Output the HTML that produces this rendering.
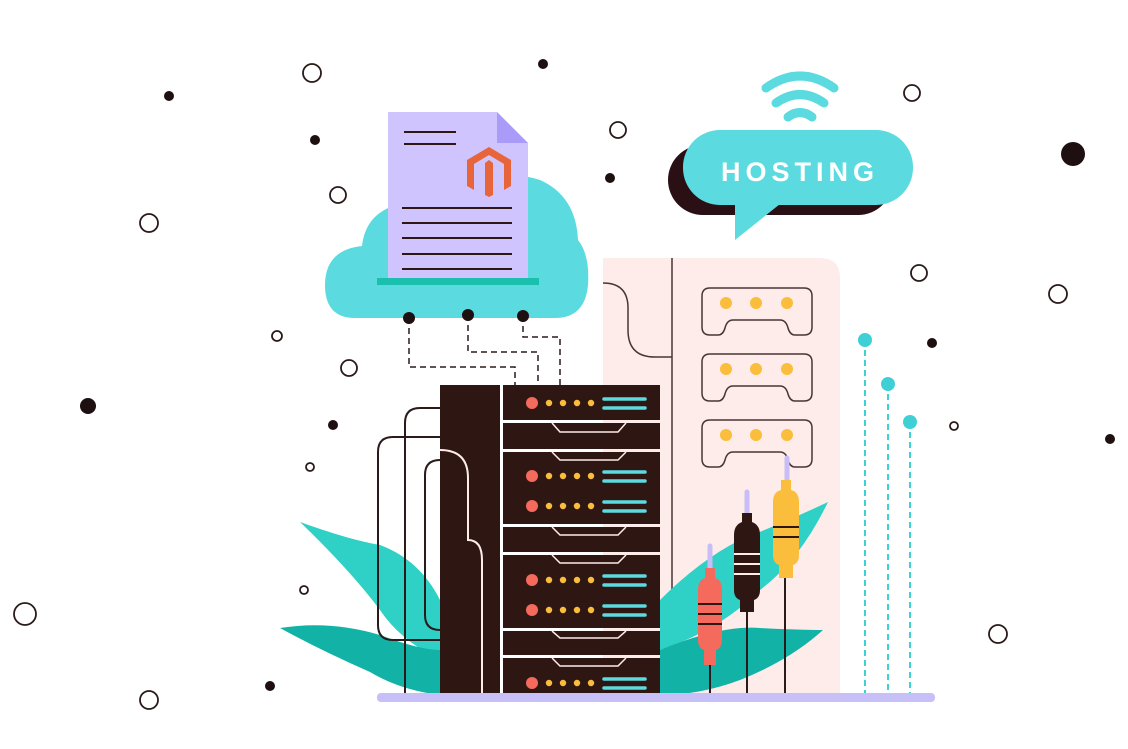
<!DOCTYPE html>
<html><head><style>html,body{margin:0;padding:0;background:#fff;}svg{display:block}</style></head>
<body>
<svg width="1128" height="749" viewBox="0 0 1128 749" xmlns="http://www.w3.org/2000/svg">
<g fill="#1e0f10">
<circle cx="169" cy="96" r="5"/><circle cx="315" cy="140" r="5"/><circle cx="543" cy="64" r="5"/><circle cx="610" cy="178" r="5"/><circle cx="1073" cy="154" r="12"/><circle cx="88" cy="406" r="8"/><circle cx="333" cy="425" r="5"/><circle cx="932" cy="343" r="5"/><circle cx="1110" cy="439" r="5"/><circle cx="270" cy="686" r="5"/>
</g>
<g fill="none" stroke="#2a1a1a" stroke-width="1.8">
<circle cx="312" cy="73" r="9"/><circle cx="618" cy="130" r="8"/><circle cx="912" cy="93" r="8"/><circle cx="338" cy="195" r="8"/><circle cx="149" cy="223" r="9"/><circle cx="919" cy="273" r="8"/><circle cx="1058" cy="294" r="9"/><circle cx="277" cy="336" r="5"/><circle cx="349" cy="368" r="8"/><circle cx="310" cy="467" r="4"/><circle cx="954" cy="426" r="4"/><circle cx="304" cy="590" r="4"/><circle cx="25" cy="614" r="11"/><circle cx="998" cy="634" r="9"/><circle cx="149" cy="700" r="9"/>
</g>

<!-- pink tower -->
<path d="M603 258 H820 Q840 258 840 278 V695 H603 Z" fill="#fdecea"/>
<line x1="672" y1="258" x2="672" y2="622" stroke="#4a3535" stroke-width="1.5"/>
<path d="M603 283 Q628 283 628 308 V330 Q628 357 655 357 H672" fill="none" stroke="#4a3535" stroke-width="1.5"/>
<g fill="none" stroke="#4a3535" stroke-width="1.5">
<path d="M710 288 H804 Q812 288 812 296 V327 Q812 335 804 335 H795 Q790 335 788 328 Q786 320 780 320 H733 Q727 320 725 328 Q723 335 718 335 H710 Q702 335 702 327 V296 Q702 288 710 288 Z"/>
<path transform="translate(0,66)" d="M710 288 H804 Q812 288 812 296 V327 Q812 335 804 335 H795 Q790 335 788 328 Q786 320 780 320 H733 Q727 320 725 328 Q723 335 718 335 H710 Q702 335 702 327 V296 Q702 288 710 288 Z"/>
<path transform="translate(0,132)" d="M710 288 H804 Q812 288 812 296 V327 Q812 335 804 335 H795 Q790 335 788 328 Q786 320 780 320 H733 Q727 320 725 328 Q723 335 718 335 H710 Q702 335 702 327 V296 Q702 288 710 288 Z"/>
</g>
<g fill="#fbbd3c">
<circle cx="726" cy="303" r="6"/><circle cx="756" cy="303" r="6"/><circle cx="787" cy="303" r="6"/>
<circle cx="726" cy="369" r="6"/><circle cx="756" cy="369" r="6"/><circle cx="787" cy="369" r="6"/>
<circle cx="726" cy="435" r="6"/><circle cx="756" cy="435" r="6"/><circle cx="787" cy="435" r="6"/>
</g>

<!-- leaves -->
<path d="M300 522 Q350 540 380 545 Q420 560 440 600 L440 660 Q400 640 380 610 Q350 570 300 522 Z" fill="#2fd0c6"/>
<path d="M280 628 Q330 620 380 635 Q420 650 440 650 L440 695 Q400 690 370 672 Q320 650 280 628 Z" fill="#12b3a6"/>
<path d="M660 600 Q700 560 740 540 Q790 520 828 502 Q800 560 760 590 Q720 630 660 650 Z" fill="#2fd0c6"/>
<path d="M660 650 Q720 625 760 628 Q800 630 823 630 Q790 660 740 680 Q700 695 660 695 Z" fill="#12b3a6"/>

<!-- wires left -->
<g fill="none" stroke="#2a1a1a" stroke-width="2">
<path d="M440 408 H420 Q405 408 405 423 V695"/>
<path d="M440 437 H393 Q378 437 378 452 V625 Q378 640 393 640 H440"/>
<path d="M440 460 H440 Q425 460 425 475 V615 Q425 630 440 630"/>
</g>

<!-- rack -->
<rect x="440" y="385" width="60" height="310" fill="#2e1713"/>
<path d="M440 450 Q468 450 468 478 V540 Q482 540 482 560 V695" fill="none" stroke="#fdecea" stroke-width="2"/>
<g fill="#2e1713">
<rect x="503" y="385" width="157" height="35"/>
<rect x="503" y="423" width="157" height="26"/>
<rect x="503" y="452" width="157" height="72"/>
<rect x="503" y="527" width="157" height="25"/>
<rect x="503" y="555" width="157" height="73"/>
<rect x="503" y="631" width="157" height="24"/>
<rect x="503" y="658" width="157" height="37"/>
</g>
<g fill="none" stroke="#fdecea" stroke-width="1.5">
<path d="M552 423 L560 432 H618 L626 423"/><path d="M552 452 L560 460 H618 L626 452"/>
<path d="M552 527 L560 535 H618 L626 527"/><path d="M552 555 L560 563 H618 L626 555"/>
<path d="M552 631 L560 638 H618 L626 631"/><path d="M552 658 L560 666 H618 L626 658"/>
</g>
<g id="lr">
<circle cx="532" cy="403" r="6" fill="#f46a5c"/>
<g fill="#fbbd3c"><circle cx="549" cy="403" r="3.2"/><circle cx="563" cy="403" r="3.2"/><circle cx="577" cy="403" r="3.2"/><circle cx="591" cy="403" r="3.2"/></g>
<g stroke="#5bdbe0" stroke-width="3.5" stroke-linecap="round"><line x1="604" y1="399" x2="645" y2="399"/><line x1="604" y1="408" x2="645" y2="408"/></g>
</g>
<use href="#lr" y="73"/><use href="#lr" y="103"/><use href="#lr" y="177"/><use href="#lr" y="207"/><use href="#lr" y="280"/>

<!-- jacks -->
<g stroke="#2a1a1a" stroke-width="2"><line x1="710" y1="660" x2="710" y2="695"/><line x1="747" y1="610" x2="747" y2="695"/><line x1="785" y1="575" x2="785" y2="695"/></g>
<g stroke="#c9bdf7" stroke-width="5" stroke-linecap="round"><line x1="710" y1="546" x2="710" y2="570"/><line x1="747" y1="492" x2="747" y2="515"/><line x1="787" y1="458" x2="787" y2="482"/></g>
<g>
<path d="M705 568 H715 V578 Q722 580 722 590 V640 Q722 648 716 650 V665 H704 V650 Q698 648 698 640 V590 Q698 580 705 578 Z" fill="#f46a5c"/>
<path d="M742 513 H752 V522 Q760 525 760 535 V590 Q760 598 754 600 V612 H740 V600 Q734 598 734 590 V535 Q734 525 742 522 Z" fill="#2e1713"/>
<path d="M781 480 H791 V490 Q799 492 799 502 V555 Q799 563 793 565 V578 H779 V565 Q773 563 773 555 V502 Q773 492 781 490 Z" fill="#fbbd3c"/>
<g stroke="#2e1713" stroke-width="2"><line x1="698" y1="604" x2="722" y2="604"/><line x1="698" y1="614" x2="722" y2="614"/><line x1="698" y1="624" x2="722" y2="624"/><line x1="773" y1="527" x2="799" y2="527"/><line x1="773" y1="537" x2="799" y2="537"/></g>
<g stroke="#fdecea" stroke-width="2"><line x1="734" y1="554" x2="760" y2="554"/><line x1="734" y1="564" x2="760" y2="564"/><line x1="734" y1="574" x2="760" y2="574"/></g>
</g>

<!-- cyan dashed -->
<g stroke="#3fd0d6" stroke-width="2" stroke-dasharray="6 4"><line x1="865" y1="340" x2="865" y2="693"/><line x1="888" y1="384" x2="888" y2="693"/><line x1="910" y1="422" x2="910" y2="693"/></g>
<g fill="#3fd0d6"><circle cx="865" cy="340" r="7"/><circle cx="888" cy="384" r="7"/><circle cx="910" cy="422" r="7"/></g>

<rect x="377" y="693" width="558" height="9" rx="4" fill="#c7bff7"/>

<!-- cloud -->
<path d="M355 318 Q325 318 325 285 Q325 250 362 246 Q366 208 410 202 Q440 170 490 178 Q515 172 540 180 Q576 196 578 240 Q590 255 588 285 Q585 318 555 318 Z" fill="#5bdbe0"/>
<path d="M388 112 H497 L528 143 V278 H388 Z" fill="#cfc4fd"/>
<path d="M497 112 L528 143 H497 Z" fill="#a99bf7"/>
<rect x="377" y="278" width="162" height="7" fill="#1bbfae"/>
<g stroke="#2e1713" stroke-width="2"><line x1="404" y1="132" x2="456" y2="132"/><line x1="404" y1="144" x2="456" y2="144"/>
<line x1="402" y1="208" x2="512" y2="208"/><line x1="402" y1="223" x2="512" y2="223"/><line x1="402" y1="238" x2="512" y2="238"/><line x1="402" y1="254" x2="512" y2="254"/><line x1="402" y1="269" x2="512" y2="269"/></g>
<path d="M489 147 L511 160 V186 L504 190 V164 L489 155 L474 164 V190 L467 186 V160 Z M485 163 L489 160 L493 163 V195 L489 197 L485 195 Z" fill="#e8643a"/>
<g fill="none" stroke="#2a1a1a" stroke-width="1.5" stroke-dasharray="6 4">
<path d="M409 318 V367 H515 V385"/><path d="M468 315 V352 H538 V385"/><path d="M523 316 V337 H560 V385"/>
</g>
<g fill="#1e0f10"><circle cx="409" cy="318" r="6"/><circle cx="468" cy="315" r="6"/><circle cx="523" cy="316" r="6"/></g>

<!-- hosting bubble -->
<rect x="668" y="145" width="225" height="70" rx="35" fill="#2a0f14"/>
<rect x="683" y="130" width="230" height="75" rx="37" fill="#5bdbe0"/>
<path d="M735 198 L735 240 L785 200 Z" fill="#5bdbe0"/>
<text x="800" y="181" text-anchor="middle" font-family="Liberation Sans, sans-serif" font-weight="bold" font-size="27" letter-spacing="5" fill="#fff">HOSTING</text>
<g fill="none" stroke="#5bdbe0" stroke-width="9" stroke-linecap="round">
<path d="M766 88 Q800 64 834 88"/><path d="M776 103 Q800 86 824 103"/><path d="M788 117 Q800 108 812 117"/>
</g>
</svg>
</body></html>
